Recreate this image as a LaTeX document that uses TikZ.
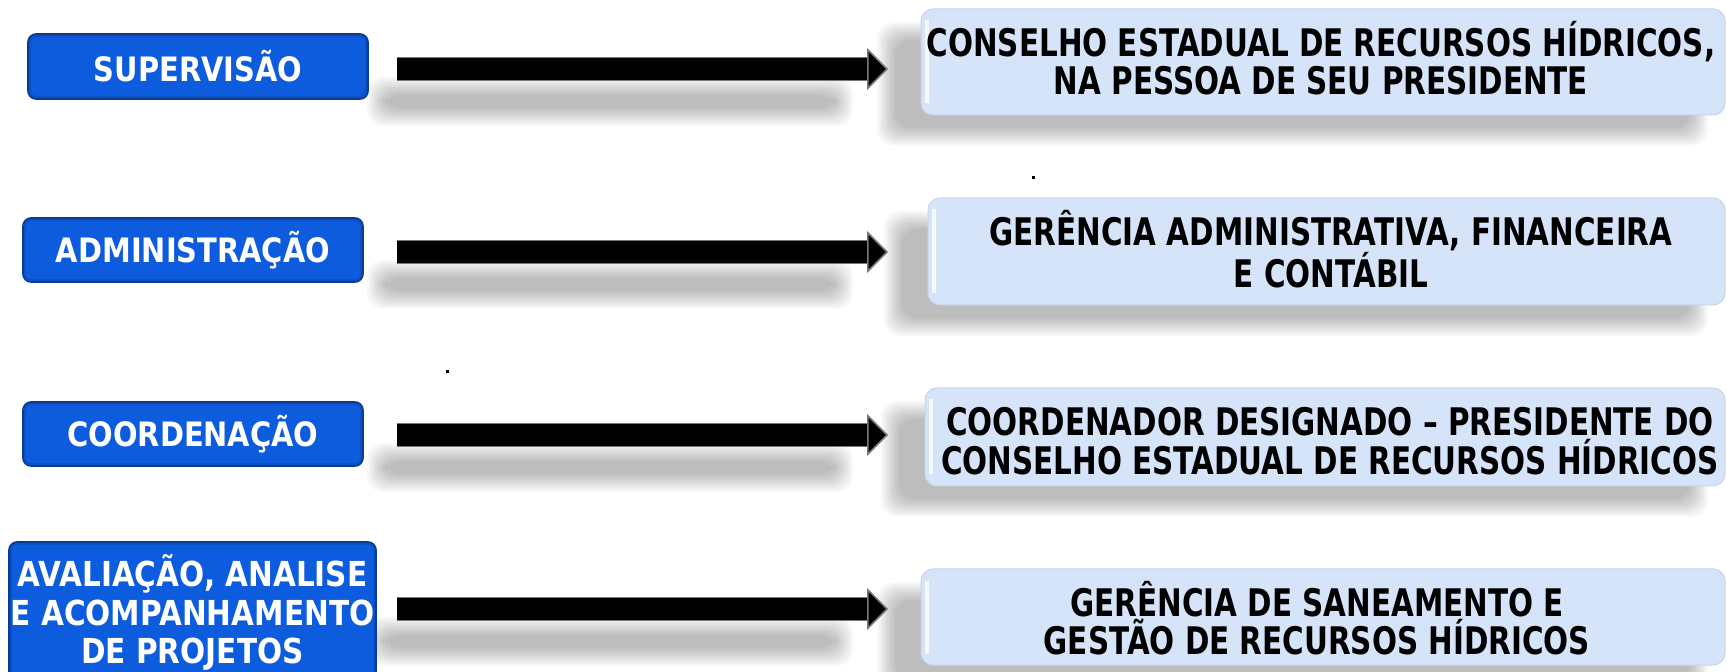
\documentclass[tikz,border=0pt]{standalone}
\usepackage{fontspec}
\newfontfamily\lfont{DejaVu Sans}[FakeStretch=0.86]
\newfontfamily\rfont{DejaVu Sans}[FakeStretch=0.775]
\usetikzlibrary{arrows.meta,calc}
\definecolor{bluebox}{RGB}{14,92,222}
\definecolor{blueedge}{RGB}{8,58,150}
\definecolor{paleblue}{RGB}{214,228,250}
\definecolor{arrowgray}{RGB}{120,120,120}
\newcommand\softshadow[4]{%
  \foreach \k in {0,...,9}{%
    \fill[black,opacity=0.028,rounded corners=8pt]
      (#1-2*\k,#2-2*\k) rectangle (#3+2*\k,#4+2*\k);
  }}
\tikzset{
  leftbox/.style={rectangle, rounded corners=4pt, fill=bluebox, draw=blueedge,
    line width=0.8pt, text=white, align=center, inner sep=0pt,
    font=\lfont\bfseries\fontsize{16.8}{19.25}\selectfont},
  rightbox/.style={rectangle, rounded corners=6pt, fill=paleblue, draw=paleblue!85!gray,
    line width=0.5pt, inner sep=0pt},
  righttext/.style={align=center, inner sep=0pt,
    font=\rfont\bfseries\fontsize{19}{19.25}\selectfont},
  shaftborder/.style={draw=arrowgray, line width=12pt},
  fatarrow/.style={draw=black, line width=11pt,
    -{Triangle[length=10.5pt,width=21pt,fill=black,color=arrowgray,line width=0.8pt]}},
}
\begin{document}
\begin{tikzpicture}[x=0.5pt,y=-0.5pt]
\useasboundingbox (0,0) rectangle (1727,672);
\fill[white] (0,0) rectangle (1727,672);
% shadows
\foreach \yy in {69,252,435,609}{\softshadow{385}{\yy+26}{835}{\yy+39}}
\softshadow{895}{40}{1690}{128}
\softshadow{902}{229}{1690}{318}
\softshadow{899}{419}{1690}{499}
\softshadow{895}{600}{1690}{678}
% left boxes
\node[leftbox, minimum width=170pt, minimum height=32.5pt] (l1) at (198,66.5) {SUPERVISÃO};
\node[leftbox, minimum width=170pt, minimum height=32pt] (l2) at (193,250) {ADMINISTRAÇÃO};
\node[leftbox, minimum width=170pt, minimum height=32pt] (l3) at (193,434) {COORDENAÇÃO};
\node[leftbox, minimum width=183.5pt, minimum height=70.5pt,
  font=\lfont\bfseries\fontsize{17.2}{19.25}\selectfont] (l4) at (192.5,612.5)
  {AVALIAÇÃO, ANALISE\\E ACOMPANHAMENTO\\DE PROJETOS};
\foreach \l in {l1,l2,l3,l4}{
  \draw[blueedge, opacity=0.35, line width=1.6pt, rounded corners=3pt]
    ([xshift=1.2pt,yshift=-1.2pt]\l.north west) rectangle ([xshift=-1.2pt,yshift=1.2pt]\l.south east);
}
% right boxes
\node[rightbox, minimum width=402pt, minimum height=53pt] (r1) at (1323,62) {};
\node[rightbox, minimum width=398.5pt, minimum height=53.5pt] (r2) at (1326.5,251.5) {};
\node[rightbox, minimum width=400pt, minimum height=49pt] (r3) at (1325,437) {};
\node[rightbox, minimum width=402pt, minimum height=48pt] (r4) at (1323,617) {};
\foreach \r in {r1,r2,r3,r4}{
  \draw[white, opacity=0.8, line width=2pt] ([xshift=3pt,yshift=-6pt]\r.north west) -- ([xshift=3pt,yshift=6pt]\r.south west);
}
\node[righttext] (t1) at (1321,58) {CONSELHO ESTADUAL DE RECURSOS HÍDRICOS,\\NA PESSOA DE SEU PRESIDENTE};
\node[righttext] (t2) at (1331,249) {GERÊNCIA ADMINISTRATIVA, FINANCEIRA\\E CONTÁBIL};
\node[righttext] (t3) at (1330,441) {COORDENADOR DESIGNADO – PRESIDENTE DO\\CONSELHO ESTADUAL DE RECURSOS HÍDRICOS};
\node[righttext] (t4) at (1317,618) {GERÊNCIA DE SANEAMENTO E\\GESTÃO DE RECURSOS HÍDRICOS};
% arrows
\coordinate (as) at (397,0);
\coordinate (at) at (888,0);
\coordinate (ab) at (868,0);
\foreach \l/\d in {l1/-1.25pt,l2/-1pt,l3/-0.5pt,l4/1.75pt}{
  \draw[shaftborder] ([yshift=\d]\l.east -| as) -- ([yshift=\d]\l.east -| ab);
  \draw[fatarrow] ([yshift=\d]\l.east -| as) -- ([yshift=\d]\l.east -| at);
}
% stray dots
\fill[black] (1031.5,176.5) rectangle (1034.5,179.5);
\fill[black] (445.5,370.5) rectangle (448.5,373.5);
\end{tikzpicture}
\end{document}
